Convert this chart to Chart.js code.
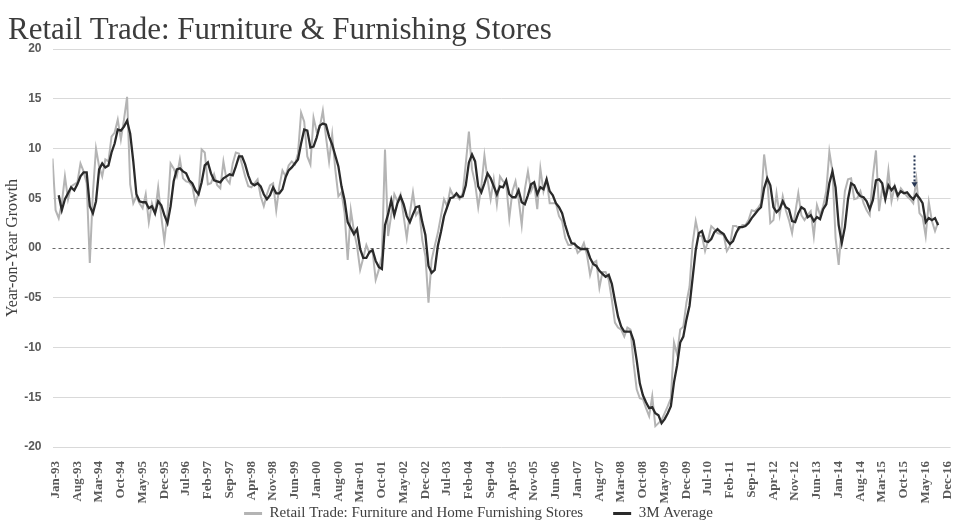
<!DOCTYPE html>
<html>
<head>
<meta charset="utf-8">
<script src="https://cdn.jsdelivr.net/npm/chart.js@4.4.1/dist/chart.umd.min.js"></script>
<style>
html,body{margin:0;padding:0;background:#fff;}
#wrap{width:966px;height:528px;position:relative;}
</style>
</head>
<body>
<div id="wrap"><canvas id="c" width="966" height="528"></canvas></div>
<script>
const chartTitle = 'Retail Trade: Furniture & Furnishing Stores';
const yAxisTitle = 'Year-on-Year Growth';
const seriesNames = ['Retail Trade: Furniture and Home Furnishing Stores', '3M Average'];

const monthAbbr = ['Jan','Feb','Mar','Apr','May','Jun','Jul','Aug','Sep','Oct','Nov','Dec'];
const firstYear = 1993, lastYear = 2016;
const categories = [];
for (let y = firstYear; y <= lastYear; y++) {
  for (const m of monthAbbr) categories.push(m + '-' + String(y % 100).padStart(2, '0'));
}
const tickStep = 7;
const yTicks = [-20, -15, -10, -5, 0, 5, 10, 15, 20];

const rawSeries = [
9.0,3.8,3.0,4.5,7.2,4.9,6.2,6.4,6.6,8.5,
7.7,6.5,-1.5,5.5,10.0,8.2,7.2,8.9,8.7,11.2,
11.6,12.9,10.9,12.9,15.2,6.4,4.5,5.2,4.5,4.0,
5.4,2.6,4.5,3.5,6.1,3.2,0.7,3.5,8.5,8.0,
7.2,8.9,7.0,6.7,6.6,6.2,4.5,5.5,9.9,9.6,
6.4,6.5,7.4,6.3,6.0,8.7,6.9,6.5,8.5,9.6,
9.5,8.4,7.2,6.2,6.1,6.5,6.9,5.2,4.2,5.4,
6.3,6.5,3.8,6.2,7.8,7.2,8.3,8.7,8.4,9.5,
13.6,12.7,9.2,8.4,13.1,11.7,12.1,13.8,11.2,8.7,
11.4,7.9,5.2,5.6,3.5,-1.2,3.8,1.7,0.2,-2.2,
-1.0,0.3,-0.5,-0.3,-3.2,-2.2,-0.8,9.9,1.2,3.3,
5.4,4.7,5.4,3.2,1.0,3.5,5.6,3.3,3.8,0.8,
-0.8,-5.5,-1.2,0.2,1.5,3.2,4.9,4.2,5.9,5.2,
5.3,4.9,5.5,8.5,11.7,7.9,6.5,4.1,6.2,9.3,
6.9,4.9,6.9,4.4,7.2,6.7,6.5,3.0,5.7,6.7,
4.9,2.3,5.9,7.7,5.7,6.5,3.9,8.0,5.7,6.9,
4.5,4.5,4.5,3.2,2.7,1.0,0.3,0.3,0.5,-0.5,
-0.2,0.5,-0.7,-2.7,-1.5,-1.3,-4.0,-2.4,-2.4,-3.2,
-5.2,-7.5,-8.0,-8.2,-8.9,-8.0,-8.2,-11.6,-14.2,-15.1,
-15.2,-16.1,-16.9,-14.9,-17.9,-17.6,-17.3,-16.6,-15.9,-15.1,
-9.5,-10.7,-8.2,-7.9,-5.5,-3.9,0.5,2.7,1.2,1.2,
-0.3,0.8,2.2,1.9,1.5,1.4,1.3,-0.3,0.2,2.2,
2.2,1.9,2.3,2.3,2.8,3.8,3.7,4.0,4.5,9.4,
7.0,2.5,2.8,5.5,3.3,5.2,3.8,2.8,1.5,3.5,
5.5,3.3,2.8,3.3,3.7,1.2,4.3,3.3,4.2,5.7,
9.7,7.7,1.0,-1.7,2.2,5.7,6.9,7.0,4.9,5.0,
5.7,4.5,3.8,3.3,7.2,9.8,3.7,6.0,5.0,7.8,
4.7,6.2,5.0,6.0,5.6,5.2,4.9,4.5,6.9,3.5,
3.1,1.2,4.6,2.7,1.7,2.6
];

const avgSeries = [
null,null,5.3,3.8,4.9,5.5,6.1,5.8,6.4,7.2,
7.6,7.6,4.2,3.5,4.7,7.9,8.5,8.1,8.3,9.6,
10.5,11.9,11.8,12.2,12.8,11.5,8.7,5.4,4.7,4.6,
4.6,4.0,4.2,3.5,4.7,4.3,3.3,2.5,4.2,6.7,
7.9,8.0,7.7,7.5,6.8,6.5,5.8,5.4,6.6,8.3,
8.6,7.5,6.8,6.7,6.6,7.0,7.2,7.4,7.3,8.2,
9.2,9.2,8.4,7.3,6.5,6.3,6.5,6.2,5.4,4.9,
5.3,6.1,5.5,5.5,5.9,7.1,7.8,8.1,8.5,8.9,
10.5,11.9,11.8,10.1,10.2,11.1,12.3,12.5,12.4,11.2,
10.4,9.3,8.2,6.2,4.8,2.6,2.0,1.4,1.9,-0.1,
-1.0,-1.0,-0.4,-0.2,-1.3,-1.9,-2.1,2.3,3.4,4.8,
3.3,4.5,5.2,4.4,3.2,2.6,3.4,4.1,4.2,2.6,
1.3,-1.8,-2.5,-2.2,0.2,1.6,3.2,4.1,5.0,5.1,
5.5,5.1,5.2,6.3,8.6,9.4,8.7,6.2,5.6,6.5,
7.5,7.0,6.2,5.4,6.2,6.1,6.8,5.4,5.1,5.1,
5.8,4.6,4.4,5.3,6.4,6.6,5.4,6.1,5.9,6.9,
5.7,5.3,4.5,4.1,3.5,2.3,1.3,0.5,0.4,0.1,
-0.1,-0.1,-0.1,-1.0,-1.6,-1.8,-2.3,-2.6,-2.9,-2.7,
-3.6,-5.3,-6.9,-7.9,-8.4,-8.4,-8.4,-9.3,-11.3,-13.6,
-14.8,-15.5,-16.1,-16.0,-16.6,-16.8,-17.6,-17.2,-16.6,-15.9,
-13.5,-11.8,-9.5,-8.9,-7.2,-5.8,-3.0,-0.2,1.5,1.7,
0.7,0.6,0.9,1.6,1.9,1.6,1.4,0.8,0.4,0.7,
1.5,2.1,2.1,2.2,2.5,3.0,3.4,3.8,4.1,6.0,
7.0,6.3,4.1,3.6,3.9,4.7,4.1,3.9,2.7,2.6,
3.5,4.1,3.9,3.1,3.3,2.7,3.1,2.9,3.9,4.4,
6.5,7.7,6.1,2.3,0.5,2.1,4.9,6.5,6.3,5.6,
5.2,5.1,4.7,3.9,4.8,6.8,6.9,6.5,4.9,6.3,
5.8,6.2,5.3,5.7,5.5,5.6,5.2,4.9,5.4,5.0,
4.5,2.6,3.0,2.8,3.0,2.3
];

// annotation arrow (category index, from value, to value)
const arrowIndex = 277.2;
const arrowFrom = 9.3;
const arrowTo = 6.1;

const colorRaw = '#b4b4b4';
const colorAvg = '#2a2a2a';
const textColor = '#595959';

function fmtY(v) {
  const a = Math.abs(v);
  const s = String(a).padStart(2, '0');
  return (v < 0 ? '-' : '') + s;
}

const titlePlugin = {
  id: 'mainTitle',
  afterDraw(chart) {
    const c = chart.ctx;
    c.save();
    c.font = '31px "Liberation Serif"';
    c.fillStyle = '#3c3c3c';
    c.textAlign = 'left';
    c.textBaseline = 'alphabetic';
    c.fillText(chartTitle, 8, 39);
    c.restore();
  }
};

// let the rotated x labels extend below the (short) x-axis box without being clipped
const labelRoomPlugin = {
  id: 'labelRoom',
  afterLayout(chart) {
    chart.scales.x.bottom = 505;
  }
};

const zeroLinePlugin = {
  id: 'zeroLine',
  beforeDatasetsDraw(chart) {
    const c = chart.ctx, a = chart.chartArea, y = chart.scales.y.getPixelForValue(0);
    c.save();
    c.strokeStyle = '#6a6a6a';
    c.lineWidth = 1;
    c.setLineDash([3, 3]);
    c.beginPath();
    c.moveTo(a.left, Math.round(y) + 0.5);
    c.lineTo(a.right, Math.round(y) + 0.5);
    c.stroke();
    c.restore();
  }
};

const arrowPlugin = {
  id: 'arrowMark',
  afterDatasetsDraw(chart) {
    const c = chart.ctx, xs = chart.scales.x, ys = chart.scales.y;
    const x = Math.round(xs.getPixelForValue(arrowIndex)) + 0.5;
    const y1 = ys.getPixelForValue(arrowFrom), y2 = ys.getPixelForValue(arrowTo);
    c.save();
    c.strokeStyle = '#243452';
    c.fillStyle = '#243452';
    c.lineWidth = 2;
    c.setLineDash([2, 2]);
    c.beginPath();
    c.moveTo(x, y1);
    c.lineTo(x, y2 - 5);
    c.stroke();
    c.setLineDash([]);
    c.beginPath();
    c.moveTo(x - 3, y2 - 5);
    c.lineTo(x + 3, y2 - 5);
    c.lineTo(x, y2);
    c.closePath();
    c.fill();
    c.restore();
  }
};

const ctx = document.getElementById('c').getContext('2d');
new Chart(ctx, {
  type: 'line',
  data: {
    datasets: [
      {
        label: seriesNames[0],
        data: rawSeries.map((v, i) => ({ x: i, y: v })),
        borderColor: colorRaw,
        backgroundColor: colorRaw,
        borderWidth: 2,
        pointRadius: 0,
        tension: 0,
        order: 2
      },
      {
        label: seriesNames[1],
        data: avgSeries.map((v, i) => ({ x: i, y: v })),
        borderColor: colorAvg,
        backgroundColor: colorAvg,
        borderWidth: 2.3,
        pointRadius: 0,
        tension: 0,
        spanGaps: false,
        order: 1
      }
    ]
  },
  options: {
    responsive: false,
    animation: false,
    devicePixelRatio: 1,
    layout: { padding: { top: 49, right: 9, left: 0, bottom: -3 } },
    scales: {
      x: {
        type: 'linear',
        min: 0,
        max: 289,
        grid: { display: false },
        border: { display: false },
        afterBuildTicks: (s) => {
          const t = [];
          for (let i = 0; i < categories.length; i += tickStep) t.push({ value: i });
          s.ticks = t;
        },
        ticks: {
          autoSkip: false,
          maxRotation: 90,
          minRotation: 90,
          padding: 6,
          labelOffset: 3,
          color: textColor,
          font: { family: '"Liberation Serif"', size: 13, weight: 'bold' },
          callback: (v) => categories[v]
        },
        afterFit: (s) => { s.height = 29; }
      },
      y: {
        min: -20,
        max: 20,
        afterBuildTicks: (s) => { s.ticks = yTicks.map(v => ({ value: v })); },
        ticks: {
          padding: 11,
          color: textColor,
          font: { family: '"Liberation Sans"', size: 12, weight: 'bold' },
          callback: (v) => fmtY(v)
        },
        grid: {
          drawTicks: false,
          lineWidth: 1,
          color: (c) => (c.tick && c.tick.value === 0) ? 'rgba(0,0,0,0)' : '#d9d9d9'
        },
        border: { display: false },
        title: {
          display: true,
          text: yAxisTitle,
          color: '#404040',
          font: { family: '"Liberation Serif"', size: 16 },
          padding: { top: 3, bottom: 0 }
        },
        afterFit: (s) => { s.width = 52.5; }
      }
    },
    plugins: {
      legend: {
        position: 'bottom',
        labels: {
          color: '#404040',
          font: { family: '"Liberation Serif"', size: 15 },
          boxWidth: 18,
          boxHeight: 3,
          padding: 30,
          generateLabels: (chart) => chart.data.datasets.map((d, i) => ({
            text: d.label,
            fillStyle: d.borderColor,
            strokeStyle: d.borderColor,
            lineWidth: 0,
            hidden: false,
            datasetIndex: i,
            fontColor: '#404040'
          }))
        }
      },
      tooltip: { enabled: false },
      title: { display: false }
    }
  },
  plugins: [titlePlugin, labelRoomPlugin, zeroLinePlugin, arrowPlugin]
});
</script>
</body>
</html>
